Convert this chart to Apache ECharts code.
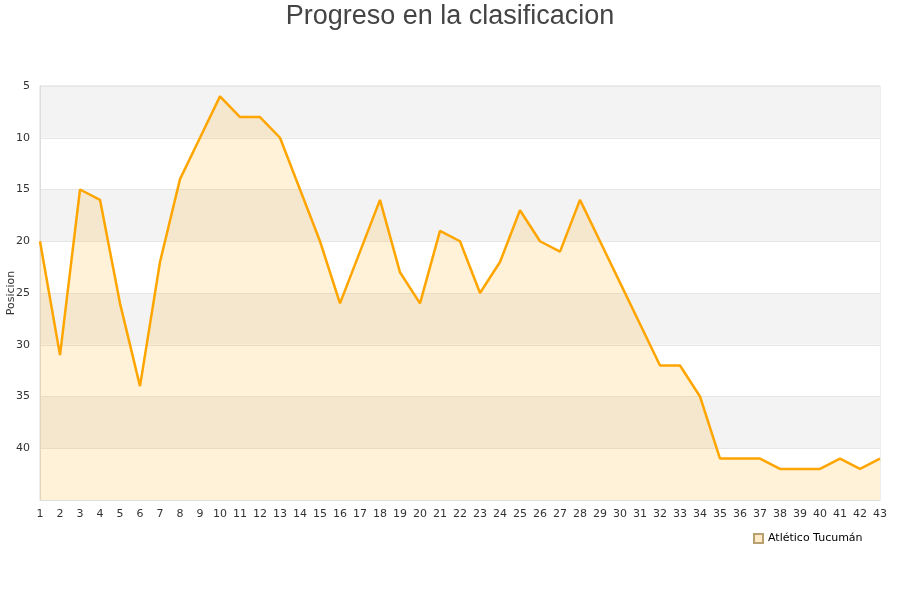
<!DOCTYPE html>
<html><head><meta charset="utf-8">
<script src="https://cdn.jsdelivr.net/npm/echarts@6/dist/echarts.min.js"></script>
<style>html,body{margin:0;padding:0;background:#fff}#c{width:900px;height:600px}</style>
</head><body><div id="c"></div>
<script>
const jornadas = ['1','2','3','4','5','6','7','8','9','10','11','12','13','14','15','16','17','18','19','20','21','22','23','24','25','26','27','28','29','30','31','32','33','34','35','36','37','38','39','40','41','42','43'];
const posiciones = [20,31,15,16,26,34,22,14,10,6,8,8,10,15,20,26,21,16,23,26,19,20,25,22,17,20,21,16,20,24,28,32,32,35,41,41,41,42,42,42,41,42,41];
const yTicks = [5,10,15,20,25,30,35,40];
const teamName = 'Atlético Tucumán';

const chart = echarts.init(document.getElementById('c'));
chart.setOption({
  animation: false,
  title: { text: 'Progreso en la clasificacion', left: 'center', top: -2,
    textStyle: { fontFamily: 'Liberation Sans', fontSize: 27, fontWeight: 'normal', color: '#444' } },
  grid: { left: 40, right: 20, top: 86, bottom: 100, containLabel: false, outerBoundsMode: 'none',
    show: true, borderColor: '#ddd', borderWidth: 1 },
  legend: { data: [{ name: teamName, icon: 'rect' }], left: 748, top: 528, itemWidth: 9, itemHeight: 9,
    textStyle: { fontFamily: 'DejaVu Sans', fontSize: 11, color: '#000' } },
  xAxis: { type: 'category', data: jornadas, boundaryGap: false,
    axisLine: { lineStyle: { color: '#ddd' } }, axisTick: { show: false },
    axisLabel: { color: '#333', fontFamily: 'DejaVu Sans', fontSize: 11, interval: 0, margin: 9 },
    splitLine: { show: false } },
  yAxis: { type: 'value', inverse: true, min: 5, max: 45, interval: 5,
    name: 'Posicion', nameLocation: 'middle', nameGap: 23, nameMoveOverlap: false,
    nameTextStyle: { fontFamily: 'DejaVu Sans', fontSize: 11, color: '#333' },
    axisLine: { show: true, lineStyle: { color: '#ddd' } }, axisTick: { show: false },
    axisLabel: { color: '#333', fontFamily: 'DejaVu Sans', fontSize: 11, margin: 10,
      formatter: v => yTicks.includes(v) ? String(v) : '' },
    splitLine: { show: true, lineStyle: { color: '#e6e6e6' } },
    splitArea: { show: true, areaStyle: { color: ['#f3f3f3', '#ffffff'] } } },
  series: [{ name: teamName, type: 'line', data: posiciones, symbol: 'none',
    lineStyle: { color: '#ffa500', width: 2.5 },
    itemStyle: { color: '#ffebc8', borderColor: '#b8a070', borderWidth: 1 },
    areaStyle: { color: 'rgba(255,165,0,0.21)', origin: 'end' } }]
});
</script></body></html>
